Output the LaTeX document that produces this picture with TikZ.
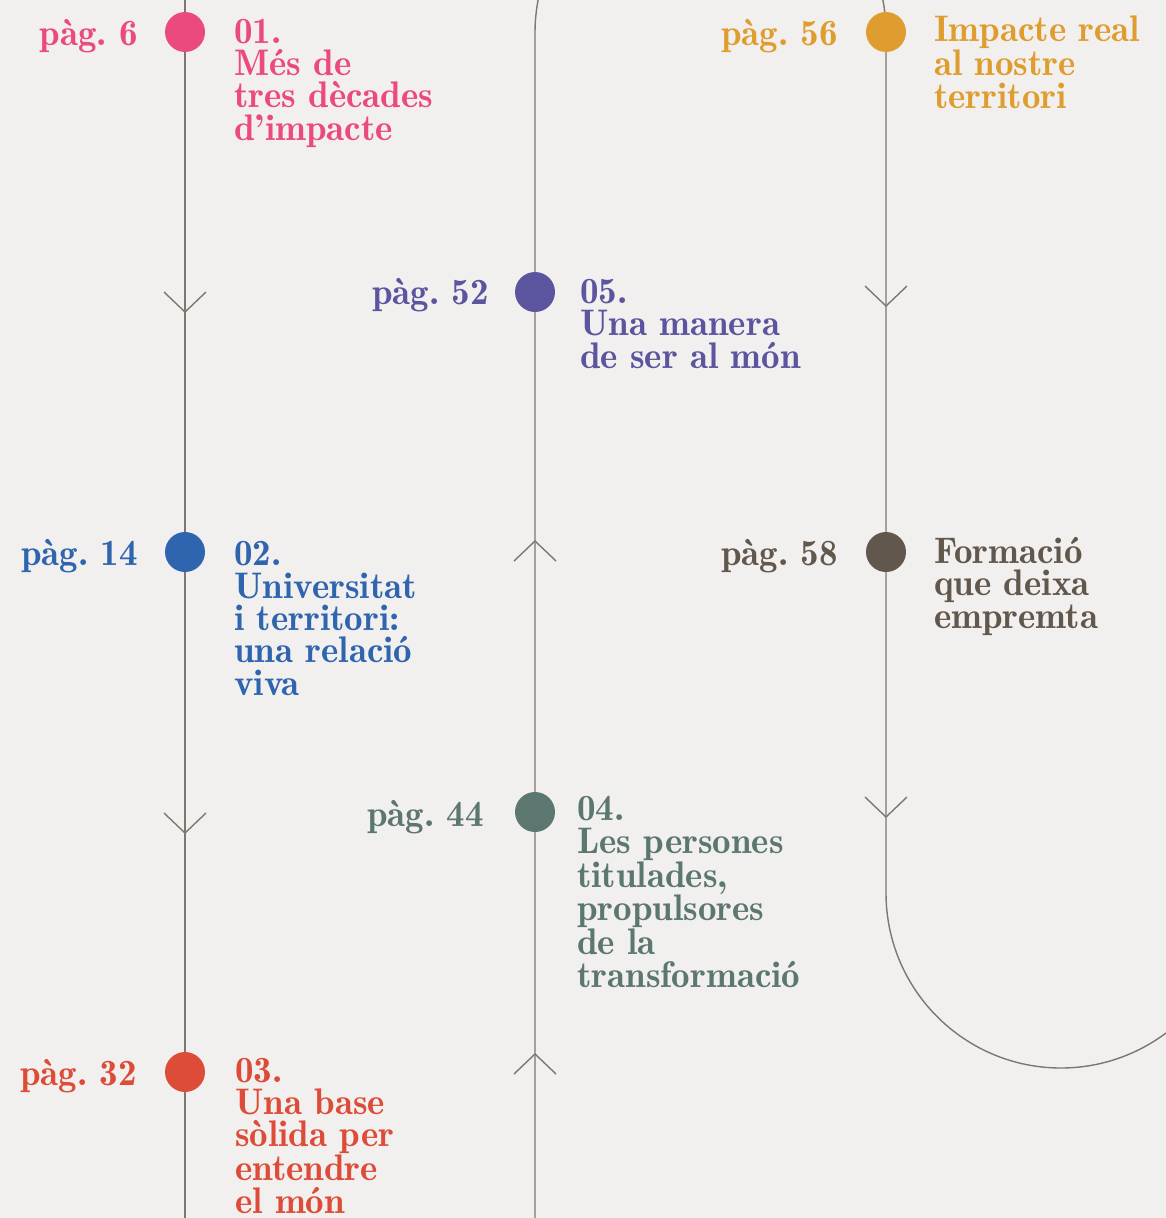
\documentclass[tikz,border=0pt]{standalone}
\usepackage{fontspec}
\usetikzlibrary{positioning}

\newfontfamily\demifont{lmromandemi10-regular.otf}

\definecolor{bgpaper}{HTML}{F2F0EE}
\definecolor{track}{HTML}{7F766E}
\definecolor{cpink}{HTML}{EB4A7E}
\definecolor{cblue}{HTML}{2F64AE}
\definecolor{cred}{HTML}{DD4C38}
\definecolor{cgreen}{HTML}{5B776F}
\definecolor{cpurple}{HTML}{5B55A0}
\definecolor{cgold}{HTML}{DF9D30}
\definecolor{cbrown}{HTML}{62574C}

\newcommand{\bigtype}{\demifont\fontsize{37}{32.3}\selectfont\frenchspacing}

\tikzset{
  dot/.style={circle, fill=#1, minimum size=40pt, inner sep=0pt},
  pagelbl/.style={anchor=base east, text=#1, font=\bigtype, inner sep=0pt},
  chaptitle/.style={anchor=base west, align=left, text=#1, font=\bigtype, inner sep=0pt},
  trackline/.style={draw=track, line width=1.4pt},
  chev/.style={draw=track, line width=1.4pt, line join=miter}
}

\begin{document}
\begin{tikzpicture}[x=1pt, y=-1pt]
\fill[bgpaper] (0,0) rectangle (1166,1218);
\useasboundingbox (0,0) rectangle (1166,1218);

% the three tracks
\coordinate (ltop) at (185,0);
\coordinate (lbot) at (185,1218);
\coordinate (mbot) at (535,1218);
\draw[trackline] (ltop) -- (lbot);
\draw[trackline] (mbot) -- (535,33) arc (180:360:175.5) -- (886,893) arc (180:53.13:175);

% chevrons, direction of travel
\foreach \x/\y/\s in {185/312/-1, 185/833/-1, 886/306/-1, 886/817/-1, 535/541/1, 535/1054/1}
  \draw[chev] (\x-21,\y+\s*20) -- (\x,\y) -- (\x+21,\y+\s*20);

% stops
\node[dot=cpink]   (d1) at (185,32) {};
\node[dot=cblue]   (d2) at (185,552) {};
\node[dot=cred]    (d3) at (185,1072) {};
\node[dot=cgreen]  (d4) at (535,812) {};
\node[dot=cpurple] (d5) at (535,292) {};
\node[dot=cgold]   (d6) at (886,32) {};
\node[dot=cbrown]  (d7) at (886,552) {};

% page numbers
\node[pagelbl=cpink]   (p1) at (138,45) {pàg. 6};
\node[pagelbl=cblue]   (p2) at (138,565) {pàg. 14};
\node[pagelbl=cred]    (p3) at (137,1085) {pàg. 32};
\node[pagelbl=cgreen]  (p4) at (484,826) {pàg. 44};
\node[pagelbl=cpurple] (p5) at (489,304) {pàg. 52};
\node[pagelbl=cgold]   (p6) at (838,45) {pàg. 56};
\node[pagelbl=cbrown]  (p7) at (838,565) {pàg. 58};

% chapter titles (anchored on the last line)
\node[chaptitle=cpink]   (t1) at (234,140) {01.\\Més de\\tres dècades\\d’impacte};
\node[chaptitle=cblue]   (t2) at (234,695) {02.\\Universitat\\i territori:\\una relació\\viva};
\node[chaptitle=cred]    (t3) at (235,1213) {03.\\Una base\\sòlida per\\entendre\\el món};
\node[chaptitle=cgreen]  (t4) at (577,987) {04.\\Les persones\\titulades,\\propulsores\\de la\\transformació};
\node[chaptitle=cpurple] (t5) at (580,368) {05.\\Una manera\\de ser al món};
\node[chaptitle=cgold]   (t6) at (934,108) {Impacte real\\al nostre\\territori};
\node[chaptitle=cbrown]  (t7) at (934,628) {Formació\\que deixa\\empremta};
\end{tikzpicture}
\end{document}
